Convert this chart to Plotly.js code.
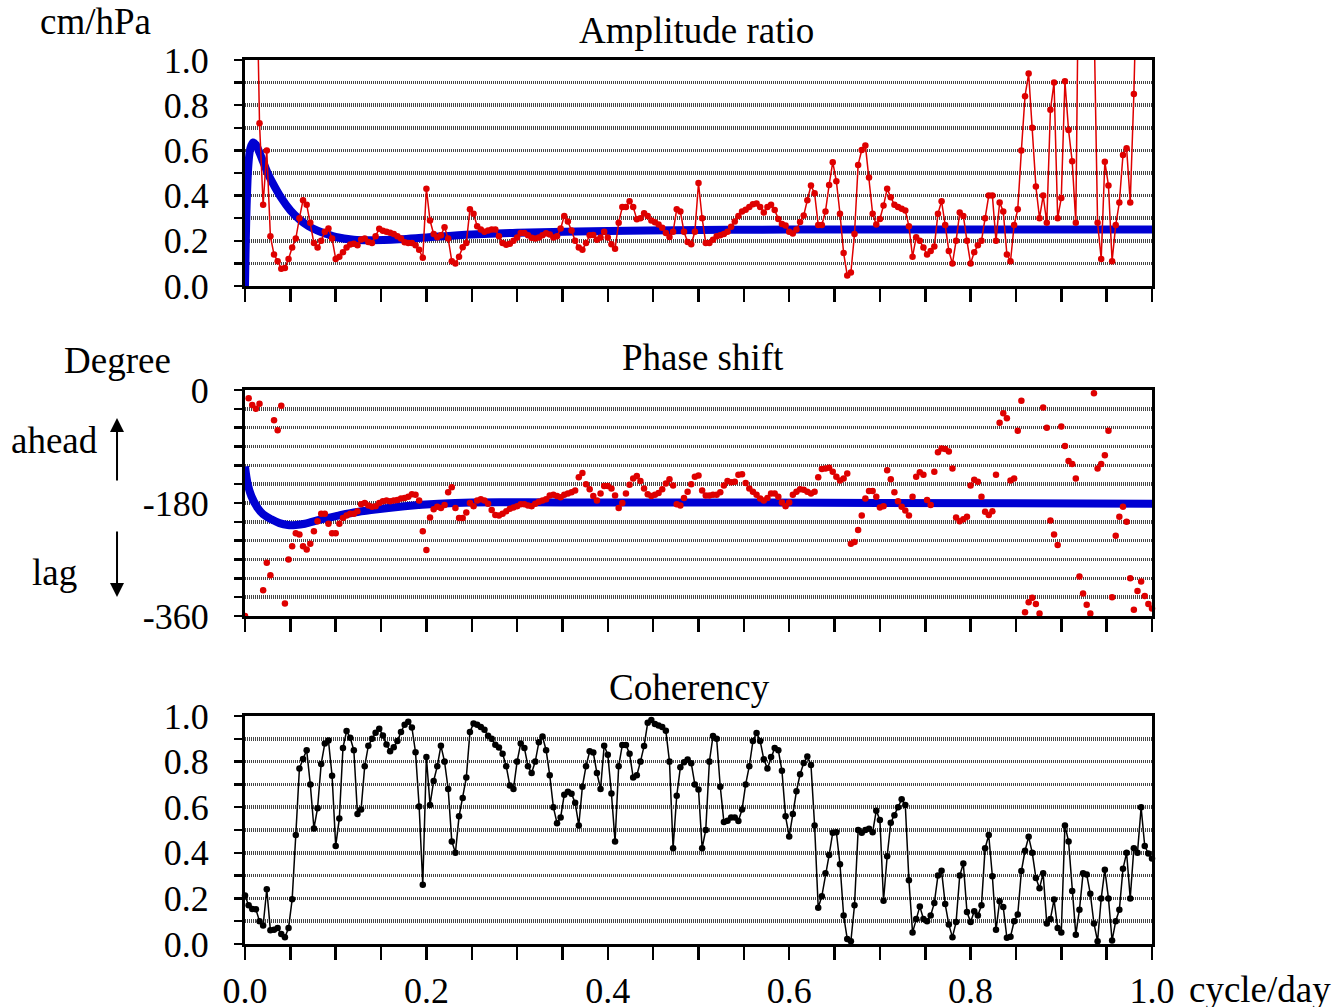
<!DOCTYPE html>
<html>
<head>
<meta charset="utf-8">
<script src="https://cdn.plot.ly/plotly-3.0.1.min.js"></script>
<style>html,body{margin:0;padding:0;background:#fff;}#chart{width:1336px;height:1007px;}</style>
</head>
<body>
<div id="chart"></div>
<script>
// Frequency step of the spectral estimate (cycle/day)
const freqStep = 0.004;

// Amplitude ratio (cm/hPa), observed (red)
const ampRatio = [
 null,null,null,1.6,0.72,0.36,0.60,0.22,0.14,0.11,
 0.077,0.08,0.12,0.17,0.21,0.30,0.38,0.36,0.28,0.19,
 0.17,0.20,0.24,0.255,0.21,0.12,0.13,0.15,0.17,0.184,
 0.187,0.18,0.206,0.21,0.195,0.19,0.22,0.253,0.245,0.24,
 0.236,0.23,0.22,0.21,0.194,0.19,0.19,0.18,0.16,0.125,
 0.43,0.29,0.23,0.216,0.225,0.26,0.21,0.11,0.1,0.13,
 0.172,0.19,0.34,0.32,0.265,0.25,0.24,0.246,0.25,0.25,
 0.22,0.19,0.183,0.187,0.2,0.215,0.235,0.235,0.225,0.214,
 0.21,0.215,0.225,0.234,0.228,0.215,0.22,0.255,0.31,0.285,
 0.246,0.2,0.17,0.16,0.19,0.225,0.226,0.205,0.215,0.24,
 0.215,0.185,0.165,0.28,0.35,0.35,0.375,0.35,0.295,0.3,
 0.322,0.31,0.29,0.282,0.272,0.258,0.235,0.217,0.24,0.34,
 0.33,0.24,0.195,0.185,0.24,0.456,0.3,0.19,0.19,0.205,
 0.22,0.225,0.23,0.24,0.262,0.285,0.31,0.33,0.337,0.35,
 0.362,0.365,0.35,0.325,0.35,0.36,0.336,0.297,0.275,0.268,
 0.24,0.232,0.25,0.283,0.312,0.38,0.445,0.41,0.27,0.27,
 0.33,0.447,0.548,0.464,0.32,0.146,0.047,0.06,0.23,0.536,
 0.602,0.622,0.48,0.32,0.272,0.297,0.356,0.43,0.393,0.36,
 0.35,0.342,0.334,0.265,0.13,0.216,0.2,0.17,0.14,0.155,
 0.175,0.32,0.375,0.27,0.155,0.1,0.2,0.325,0.31,0.2,
 0.1,0.15,0.18,0.2,0.3,0.4,0.4,0.2,0.37,0.33,
 0.14,0.11,0.27,0.34,0.6,0.84,0.94,0.7,0.44,0.3,
 0.4,0.28,0.78,0.9,0.3,0.39,0.906,0.69,0.552,0.28,
 1.8,2.5,2.0,1.5,1.2,0.28,0.12,0.55,0.445,0.11,
 0.27,0.37,0.58,0.61,0.37,0.85,1.5,2.0,1.8,1.6,
 1.4
];

// Phase shift (degree), observed (red)
const phaseShift = [
 -360,-13,-24,-30,-22,-319,-275,-295,-48,-64,
 -25,-340,-270,-249,-228,-230,-249,-254,-245,-225,
 -209,-197,-197,-213,-228,-228,-213,-204,-200,-197,
 -197,-193,-182,-180,-184,-186,-185,-180,-177,-176,
 -177,-176,-175,-173,-172,-170,-166,-167,-176,-225,
 -255,-203,-190,-186,-188,-183,-163,-155,-188,-204,
 -204,-195,-180,-185,-176,-174,-176,-181,-191,-199,
 -200,-197,-193,-189,-187,-185,-182,-182,-184,-185,
 -181,-178,-176,-174,-168,-167,-169,-171,-167,-165,
 -163,-160,-139,-132,-150,-158,-169,-176,-165,-153,
 -153,-157,-168,-188,-180,-165,-151,-141,-137,-145,
 -157,-166,-169,-167,-164,-158,-149,-142,-152,-182,
 -184,-172,-162,-150,-138,-136,-160,-168,-168,-167,
 -167,-163,-152,-145,-147,-146,-135,-134,-148,-157,
 -162,-167,-173,-176,-172,-165,-165,-170,-179,-185,
 -179,-167,-162,-158,-159,-162,-165,-162,-139,-126,
 -125,-124,-130,-138,-144,-141,-133,-245,-242,-223,
 -200,-173,-161,-161,-170,-187,-185,-128,-142,-163,
 -177,-186,-192,-200,-170,-138,-131,-135,-175,-183,
 -130,-99,-93,-94,-98,-125,-203,-209,-206,-202,
 -152,-143,-146,-170,-194,-199,-193,-135,-52,-37,
 -45,-144,-141,-65,-17,-354,-338,-331,-341,-356,
 -28,-60,-208,-230,-247,-58,-89,-113,-118,-141,
 -297,-324,-342,-356,-5,-125,-118,-104,-65,-330,
 -232,-202,-186,-210,-300,-350,-320,-305,-328,-341,
 -348
];

// Coherency (black)
const coherency = [
 0.213,0.17,0.154,0.152,0.1,0.081,0.24,0.06,0.062,0.07,
 0.044,0.03,0.07,0.196,0.478,0.77,0.812,0.85,0.7,0.507,
 0.596,0.79,0.88,0.893,0.738,0.43,0.55,0.86,0.934,0.905,
 0.85,0.57,0.59,0.78,0.87,0.9,0.927,0.944,0.915,0.875,
 0.846,0.863,0.89,0.93,0.962,0.975,0.95,0.841,0.603,0.26,
 0.82,0.61,0.715,0.78,0.87,0.8,0.68,0.45,0.4,0.56,
 0.64,0.73,0.93,0.967,0.962,0.952,0.94,0.913,0.9,0.874,
 0.862,0.835,0.78,0.695,0.68,0.8,0.88,0.86,0.78,0.75,
 0.8,0.885,0.91,0.85,0.74,0.6,0.53,0.555,0.655,0.668,
 0.659,0.62,0.52,0.69,0.78,0.845,0.84,0.75,0.68,0.87,
 0.83,0.66,0.45,0.78,0.873,0.873,0.835,0.73,0.74,0.8,
 0.868,0.971,0.983,0.965,0.958,0.952,0.935,0.8,0.42,0.65,
 0.775,0.797,0.809,0.793,0.7,0.678,0.42,0.5,0.8,0.912,
 0.9,0.69,0.535,0.541,0.555,0.555,0.54,0.59,0.7,0.78,
 0.89,0.926,0.89,0.81,0.77,0.82,0.86,0.85,0.76,0.56,
 0.471,0.57,0.67,0.745,0.794,0.822,0.785,0.52,0.159,0.21,
 0.31,0.39,0.488,0.49,0.35,0.125,0.022,0.012,0.17,0.5,
 0.488,0.5,0.505,0.49,0.585,0.544,0.19,0.385,0.532,0.565,
 0.6,0.635,0.61,0.28,0.05,0.11,0.165,0.11,0.1,0.125,
 0.18,0.3,0.321,0.175,0.085,0.03,0.096,0.3,0.353,0.14,
 0.096,0.144,0.125,0.17,0.42,0.478,0.297,0.062,0.187,0.162,
 0.027,0.032,0.1,0.129,0.32,0.409,0.47,0.4,0.29,0.245,
 0.31,0.09,0.11,0.195,0.07,0.05,0.52,0.45,0.232,0.041,
 0.15,0.31,0.305,0.22,0.09,0.012,0.2,0.326,0.2,0.015,
 0.1,0.15,0.33,0.4,0.2,0.42,0.4,0.6,0.43,0.397,
 0.375
];

// Model (blue) curves
const modelAmpFreq = [0,0.002,0.004,0.006,0.009,0.012,0.016,0.02,0.025,0.03,0.04,0.05,0.06,0.07,0.08,0.09,0.1,0.12,0.14,0.17,0.2,0.25,0.3,0.4,0.5,0.6,0.8,1.0];
const modelAmp     = [0,0.38,0.55,0.61,0.635,0.625,0.59,0.55,0.5,0.46,0.39,0.335,0.295,0.265,0.245,0.23,0.217,0.205,0.203,0.207,0.215,0.228,0.236,0.244,0.248,0.25,0.25,0.25];
const modelPhaseFreq = [0,0.003,0.007,0.014,0.02,0.029,0.038,0.047,0.056,0.066,0.084,0.103,0.12,0.139,0.176,0.213,0.25,0.35,0.5,0.7,1.0];
const modelPhase     = [-122,-150,-169,-188,-198,-206,-212,-215,-215,-213,-206,-200,-195,-191,-185,-181,-179,-179,-179,-180,-181];

// Tick labels
const xTickVals = [0,0.05,0.1,0.15,0.2,0.25,0.3,0.35,0.4,0.45,0.5,0.55,0.6,0.65,0.7,0.75,0.8,0.85,0.9,0.95,1.0];
const xTickText = ['0.0','','','','0.2','','','','0.4','','','','0.6','','','','0.8','','','','1.0'];
const ratioTickVals = [0,0.1,0.2,0.3,0.4,0.5,0.6,0.7,0.8,0.9,1.0];
const ratioTickText = ['0.0','','0.2','','0.4','','0.6','','0.8','','1.0'];
const phaseTickVals = [-360,-330,-300,-270,-240,-210,-180,-150,-120,-90,-60,-30,0];
const phaseTickText = ['-360','','','','','','-180','','','','','','0'];

const freq = ampRatio.map((_, i) => Math.round(i * freqStep * 1000) / 1000);

const RED = 'rgb(222,0,0)';
const BLUE = 'rgb(0,0,210)';
const FONT = 'Liberation Serif, Times New Roman, serif';

const traces = [
  {x: modelAmpFreq, y: modelAmp, xaxis:'x', yaxis:'y', mode:'lines', line:{color:BLUE, width:8, shape:'spline'}, hoverinfo:'skip'},
  {x: freq, y: ampRatio, xaxis:'x', yaxis:'y', mode:'lines+markers', line:{color:RED, width:1.5}, marker:{color:RED, size:6.5}},
  {x: modelPhaseFreq, y: modelPhase, xaxis:'x2', yaxis:'y2', mode:'lines', line:{color:BLUE, width:8, shape:'spline'}, hoverinfo:'skip'},
  {x: freq, y: phaseShift, xaxis:'x2', yaxis:'y2', mode:'markers', marker:{color:RED, size:6.5}, cliponaxis:false},
  {x: freq, y: coherency, xaxis:'x3', yaxis:'y3', mode:'lines+markers', line:{color:'#000', width:1.5}, marker:{color:'#000', size:6.5}, cliponaxis:false}
];

function xAx(anchor, labels){
  return {anchor: anchor, range:[0,1], tickmode:'array', tickvals:xTickVals, ticktext:xTickText,
    showticklabels: labels, ticks:'outside', ticklen:13, tickwidth:2.5, tickcolor:'#000',
    showline:true, linewidth:3, linecolor:'#000', mirror:true, showgrid:false, zeroline:false,
    ticklabelstandoff: 0, tickfont:{family:FONT, size:36, color:'#000'}};
}
function yAx(anchor, domain, range, vals, text){
  return {anchor: anchor, domain: domain, range: range, tickmode:'array', tickvals: vals, ticktext: text,
    ticks:'outside', ticklen:8, tickwidth:2.5, tickcolor:'#000',
    showline:true, linewidth:3, linecolor:'#000', mirror:true,
    showgrid:true, gridcolor:'#454545', gridwidth:3.5, griddash:'1px,1px', zeroline:false,
    ticklabelstandoff: 18, tickfont:{family:FONT, size:36, color:'#000'}};
}

const ann = (text, x, y, extra) => Object.assign({text:text, x:x, y:y, xref:'paper', yref:'paper', showarrow:false,
  font:{family:FONT, size:37, color:'#000'}, xanchor:'center', yanchor:'middle'}, extra || {});

const layout = {
  width:1336, height:1007,
  margin:{l:245, r:184, t:60, b:63},
  paper_bgcolor:'#fff', plot_bgcolor:'#fff',
  showlegend:false,
  font:{family:FONT, size:36, color:'#000'},
  xaxis: xAx('y', false),
  xaxis2: xAx('y2', false),
  xaxis3: xAx('y3', true),
  yaxis: yAx('x', [0.7443,1], [0,1], ratioTickVals, ratioTickText),
  yaxis2: yAx('x2', [0.371,0.6267], [-360,0], phaseTickVals, phaseTickText),
  yaxis3: yAx('x3', [0,0.2579], [0,1], ratioTickVals, ratioTickText),
  annotations: [
    ann('cm/hPa', -0.1643, 1.043),
    ann('Amplitude ratio', 0.4983, 1.0339),
    ann('Degree', -0.1411, 0.6606),
    ann('Phase shift', 0.505, 0.6629),
    ann('ahead', -0.2095, 0.5701),
    ann('lag', -0.2095, 0.4208),
    ann('Coherency', 0.4906, 0.2896),
    ann('cycle/day', 1.119, -0.052),
    {text:'', x:-0.1411, y:0.595, xref:'paper', yref:'paper', showarrow:true, ax:0, ay:64, arrowhead:2, arrowsize:1.4, arrowwidth:2, arrowcolor:'#000'},
    {text:'', x:-0.1411, y:0.3925, xref:'paper', yref:'paper', showarrow:true, ax:0, ay:-67, arrowhead:2, arrowsize:1.4, arrowwidth:2, arrowcolor:'#000'}
  ]
};

Plotly.newPlot('chart', traces, layout, {staticPlot:true, displayModeBar:false});
</script>
</body>
</html>
